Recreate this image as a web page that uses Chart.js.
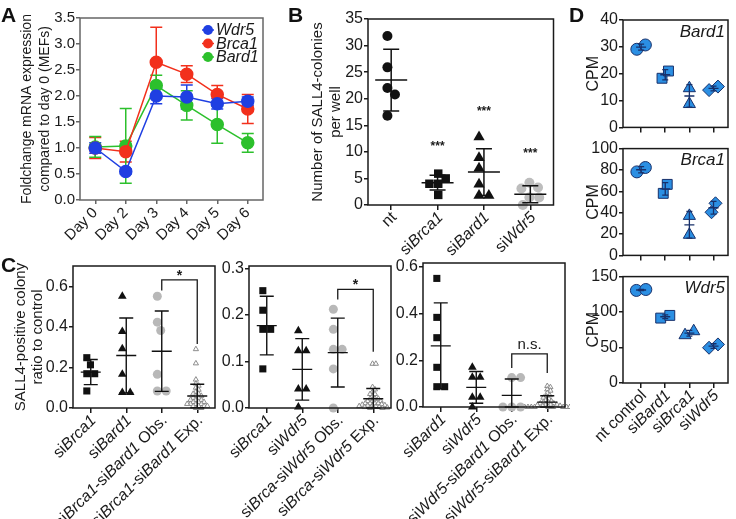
<!DOCTYPE html>
<html lang="en">
<head>
<meta charset="UTF-8">
<title>SALL4 colonies after knockdown</title>
<script src="https://cdn.jsdelivr.net/npm/chart.js"></script>
<style>
  body { margin: 0; background: #fff; }
  #fig { position: relative; width: 736px; height: 519px; overflow: hidden; font-family: "Liberation Sans", Arial, sans-serif; }
  #fig canvas { position: absolute; }
  .tag { position: absolute; font-weight: bold; font-size: 21px; line-height: 21px; color: #111; }
</style>
</head>
<body>
<div id="fig">
  <canvas id="chartA"></canvas>
  <canvas id="chartB"></canvas>
  <canvas id="chartC1"></canvas>
  <canvas id="chartC2"></canvas>
  <canvas id="chartC3"></canvas>
  <canvas id="chartD1"></canvas>
  <canvas id="chartD2"></canvas>
  <canvas id="chartD3"></canvas>
  <div class="tag" style="left:1px;top:4px">A</div>
  <div class="tag" style="left:288px;top:4px">B</div>
  <div class="tag" style="left:1px;top:254px">C</div>
  <div class="tag" style="left:569px;top:4px">D</div>
</div>
<script>
const FONT = '"Liberation Sans", Arial, sans-serif';
const INK = '#1a1a1a';

// ---- A: fold change over the time course ----
const days = ['Day 0', 'Day 2', 'Day 3', 'Day 4', 'Day 5', 'Day 6'];
const wdr5Fc = [1.0, 0.55, 2.0, 1.98, 1.85, 1.9];
const wdr5Err = [0.1, 0.05, 0.15, 0.23, 0.1, 0.08];
const brca1Fc = [1.0, 0.93, 2.65, 2.42, 2.03, 1.75];
const brca1Err = [0.2, 0.2, 0.67, 0.16, 0.17, 0.28];
const bard1Fc = [1.02, 1.04, 2.2, 1.82, 1.45, 1.1];
const bard1Err = [0.2, 0.72, 0.2, 0.28, 0.36, 0.18];

// ---- B: SALL4 colonies per well ----
const bLabels = ['nt', 'si_Brca1_', 'si_Bard1_', 'si_Wdr5_'];
const bNt = [31.8, 25.9, 22.0, 20.8, 16.8];
const bBrca1 = [5.9, 5.0, 4.0, 4.0, 1.9];
const bBard1 = [12.8, 8.9, 6.9, 3.9, 1.8, 1.8];
const bWdr5 = [4.2, 3.3, 3.1, 1.4, 1.4, 0.0];
const bMean = [23.5, 4.2, 6.2, 2.0];
const bSd = [5.8, 1.4, 4.4, 1.6];
const bStars = [null, 10.9, 17.5, 9.7];

// ---- C: ratio to control, observed vs expected ----
const c1Labels = ['si_Brca1_', 'si_Bard1_', 'si_Brca1_-si_Bard1_ Obs.', 'si_Brca1_-si_Bard1_ Exp.'];
const c1Brca1 = [0.248, 0.213, 0.169, 0.169, 0.084];
const c1Bard1 = [0.551, 0.377, 0.292, 0.166, 0.076, 0.076];
const c1Obs = [0.551, 0.423, 0.382, 0.166, 0.084, 0.084];
const c1Exp = [0.29, 0.22, 0.14, 0.12, 0.11, 0.10, 0.09, 0.08, 0.07, 0.07, 0.06, 0.06, 0.05, 0.05, 0.04,
               0.04, 0.04, 0.03, 0.03, 0.03, 0.02, 0.02, 0.02, 0.02, 0.01, 0.01, 0.01, 0.01, 0.0, 0.0];
const c1Mean = [0.177, 0.259, 0.28, 0.059];
const c1Sd = [0.062, 0.185, 0.198, 0.058];
const c1Bracket = [0.579, 0.632, 0.315];

const c2Labels = ['si_Brca1_', 'si_Wdr5_', 'si_Brca_-si_Wdr5_ Obs.', 'si_Brca_-si_Wdr5_ Exp.'];
const c2Brca1 = [0.252, 0.21, 0.169, 0.169, 0.084];
const c2Wdr5 = [0.166, 0.123, 0.123, 0.041, 0.041, 0.002];
const c2Obs = [0.212, 0.169, 0.126, 0.126, 0.084, 0.0];
const c2Exp = [0.095, 0.095, 0.045, 0.04, 0.035, 0.03, 0.03, 0.025, 0.02, 0.02, 0.02, 0.015, 0.015, 0.015, 0.01,
               0.01, 0.01, 0.01, 0.008, 0.007, 0.006, 0.005, 0.005, 0.004, 0.003, 0.002, 0.002, 0.001, 0.0, 0.0];
const c2Mean = [0.177, 0.083, 0.119, 0.02];
const c2Sd = [0.063, 0.066, 0.074, 0.022];
const c2Bracket = [0.233, 0.255, 0.121];

const c3Labels = ['si_Bard1_', 'si_Wdr5_', 'si_Wdr5_-si_Bard1_ Obs.', 'si_Wdr5_-si_Bard1_ Exp.'];
const c3Bard1 = [0.551, 0.384, 0.297, 0.17, 0.087, 0.087];
const c3Wdr5 = [0.17, 0.128, 0.128, 0.042, 0.042, 0.0];
const c3Obs = [0.126, 0.126, 0.0, 0.0, 0.0];
const c3Exp = [0.09, 0.085, 0.075, 0.07, 0.06, 0.05, 0.045, 0.04, 0.035, 0.03, 0.025, 0.02, 0.02, 0.015, 0.015,
               0.01, 0.01, 0.01, 0.008, 0.005, 0.005, 0.0, 0.0, 0.0, 0.0, 0.0, 0.0, 0.0, 0.0, 0.0];
const c3Mean = [0.262, 0.084, 0.05, 0.021];
const c3Sd = [0.184, 0.068, 0.07, 0.027];
const c3Bracket = [0.167, 0.228, 0.146];

// ---- D: CPM, two replicates ----
const dLabels = ['nt control', 'si_Bard1_', 'si_Brca1_', 'si_Wdr5_'];
const dBard1Rep1 = [29.1, 18.3, 14.6, 13.9];
const dBard1Rep2 = [30.7, 21.0, 8.7, 15.2];
const dBard1Mean = [29.9, 19.6, 11.7, 14.5];
const dBard1Sd = [1.1, 1.9, 4.2, 0.9];
const dBrca1Rep1 = [78.2, 58.1, 37.0, 40.4];
const dBrca1Rep2 = [82.3, 66.5, 19.3, 48.8];
const dBrca1Mean = [80.2, 62.3, 28.6, 44.6];
const dBrca1Sd = [2.9, 5.9, 12.5, 5.9];
const dWdr5Rep1 = [130.5, 91.5, 67.4, 49.7];
const dWdr5Rep2 = [131.8, 95.3, 73.0, 54.4];
const dWdr5Mean = [131.1, 93.4, 70.2, 52.0];
const dWdr5Sd = [0.9, 2.7, 4.0, 3.3];

function place(id, box) {
  const cv = document.getElementById(id);
  cv.width = box[2]; cv.height = box[3];
  cv.style.left = box[0] + 'px'; cv.style.top = box[1] + 'px';
}

function framePlugin(color, width) {
  return { id: 'frame', afterDraw(c) {
    const { ctx, chartArea: a } = c;
    ctx.save();
    ctx.strokeStyle = color; ctx.lineWidth = width;
    ctx.strokeRect(a.left, a.top, a.right - a.left, a.bottom - a.top);
    ctx.restore();
  } };
}

function baseOptions(box, area) {
  return {
    responsive: false, animation: false, events: [],
    layout: { padding: { left: 0, top: area[1] - box[1], right: box[0] + box[2] - area[2], bottom: 0 } },
    plugins: { legend: { display: false }, tooltip: { enabled: false } }
  };
}

function yAxis(box, area, o) {
  return {
    type: 'linear', min: 0, max: o.max,
    ticks: { stepSize: o.step, includeBounds: false, autoSkip: false, color: INK, padding: 1,
             font: { family: FONT, size: o.tickSize || 16 }, callback: v => v.toFixed(o.dec || 0) },
    grid: { drawOnChartArea: false, tickLength: 4, color: o.frame, lineWidth: 1.5 },
    border: { display: false },
    title: { display: !!o.title, text: o.title, color: INK,
             font: { family: FONT, size: o.titleSize || 16, lineHeight: o.titleLh || 1.2 },
             padding: { top: o.titlePad || 0, bottom: 0 } },
    afterFit: s => { s.width = area[0] - box[0]; }
  };
}

// spread points of equal-ish value sideways so they do not overlap (layout only)
function swarm(vals, ppu, diam, ppc) {
  const placed = [];
  const offs = vals.map(v => {
    const py = v * ppu;
    const spans = [];
    placed.forEach(p => {
      const dy = Math.abs(p.y - py);
      if (dy < diam) { const w = Math.sqrt(diam * diam - dy * dy); spans.push([p.x - w, p.x + w]); }
    });
    const cands = [0];
    spans.forEach(s => cands.push(s[0], s[1]));
    cands.sort((a, b) => Math.abs(a) - Math.abs(b) || b - a);
    const px = cands.find(cx => spans.every(s => cx <= s[0] + 1e-6 || cx >= s[1] - 1e-6));
    placed.push({ x: px, y: py });
    return px;
  });
  const mid = (Math.min(...offs) + Math.max(...offs)) / 2;
  return offs.map(d => (d - mid) / ppc);
}

// rotated tick label, text between underscores is italic
function richLabel(ctx, text, x, y, size) {
  const parts = text.split('_');
  const fonts = parts.map((p, k) => (k % 2 ? 'italic ' : '') + size + 'px ' + FONT);
  const widths = parts.map((p, k) => { ctx.font = fonts[k]; return ctx.measureText(p).width; });
  const total = widths.reduce((s, w) => s + w, 0);
  ctx.save();
  ctx.translate(x, y); ctx.rotate(-Math.PI / 4);
  ctx.textAlign = 'left'; ctx.textBaseline = 'middle'; ctx.fillStyle = INK;
  let cx = -total;
  parts.forEach((p, k) => { ctx.font = fonts[k]; ctx.fillText(p, cx, 0); cx += widths[k]; });
  ctx.restore();
}

function scatterPanel(id, box, area, o) {
  place(id, box);
  const n = o.labels.length;
  const xmin = o.xmin ?? -0.5, xmax = o.xmax ?? n - 0.5;
  const ppu = (area[3] - area[1]) / o.max;
  const ppc = (area[2] - area[0]) / (xmax - xmin);
  const datasets = o.groups.map((g, i) => {
    const off = swarm(g.vals, ppu, g.diam, ppc);
    return {
      data: g.vals.map((v, k) => ({ x: i + off[k], y: v })),
      pointStyle: g.style, pointRadius: g.r, pointBackgroundColor: g.fill,
      pointBorderColor: g.line || g.fill, pointBorderWidth: g.bw || 0, clip: false
    };
  });
  const deco = {
    id: 'deco',
    afterDatasetsDraw(c) {
      const { ctx, scales: { x, y } } = c;
      const b = o.bar;
      ctx.save();
      ctx.strokeStyle = b.color; ctx.lineWidth = b.width;
      o.mean.forEach((m, i) => {
        const px = x.getPixelForValue(i);
        const pm = y.getPixelForValue(m);
        const ph = y.getPixelForValue(m + o.sd[i]);
        const pl = y.getPixelForValue(Math.max(0, m - o.sd[i]));
        ctx.beginPath();
        ctx.moveTo(px - b.mean, pm); ctx.lineTo(px + b.mean, pm);
        ctx.moveTo(px, ph); ctx.lineTo(px, pl);
        ctx.moveTo(px - b.cap, ph); ctx.lineTo(px + b.cap, ph);
        ctx.moveTo(px - b.cap, pl); ctx.lineTo(px + b.cap, pl);
        ctx.stroke();
      });
      if (o.bracket) {
        const x0 = x.getPixelForValue(2), x1 = x.getPixelForValue(3);
        const [l, t, r] = o.bracket.map(v => y.getPixelForValue(v));
        ctx.strokeStyle = INK; ctx.lineWidth = 1.3;
        ctx.beginPath(); ctx.moveTo(x0, l); ctx.lineTo(x0, t); ctx.lineTo(x1, t); ctx.lineTo(x1, r); ctx.stroke();
        ctx.fillStyle = INK; ctx.textAlign = 'center'; ctx.textBaseline = 'bottom';
        ctx.font = (o.bracketText === '*' ? 'bold 14px ' : '15px ') + FONT;
        ctx.fillText(o.bracketText, (x0 + x1) / 2, t - (o.bracketText === '*' ? -3 : 1));
      }
      ctx.restore();
    },
    afterDraw(c) {
      const { ctx, chartArea: a, scales: { x, y } } = c;
      ctx.save();
      if (o.showLabels) {
        o.labels.forEach((t, i) => richLabel(ctx, t, x.getPixelForValue(i) + 3, a.bottom + 10, 16));
      }
      if (o.stars) {
        ctx.fillStyle = INK; ctx.font = 'bold 12px ' + FONT; ctx.textAlign = 'center'; ctx.textBaseline = 'middle';
        o.stars.forEach((s, i) => { if (s !== null) ctx.fillText('***', x.getPixelForValue(i), y.getPixelForValue(s)); });
      }
      if (o.gene) {
        ctx.fillStyle = INK; ctx.font = 'italic 17px ' + FONT; ctx.textAlign = 'right'; ctx.textBaseline = 'middle';
        ctx.fillText(o.gene, a.right - 3, a.top + 12);
      }
      ctx.restore();
    }
  };
  const opts = baseOptions(box, area);
  opts.scales = {
    x: {
      type: 'linear', min: xmin, max: xmax,
      afterBuildTicks: s => { s.ticks = o.labels.map((t, i) => ({ value: i })); },
      ticks: { display: false },
      grid: { drawOnChartArea: false, tickLength: 5, color: o.frame, lineWidth: 1.5 },
      border: { display: false },
      afterFit: s => { s.height = box[1] + box[3] - area[3]; }
    },
    y: yAxis(box, area, o)
  };
  return new Chart(id, { type: 'scatter', data: { datasets }, options: opts, plugins: [framePlugin(o.frame, 1.5), deco] });
}

// ---------- Panel A ----------
(function () {
  const box = [0, 0, 285, 250], area = [80, 18, 263, 200];
  place('chartA', box);
  const series = [
    { label: 'Wdr5', data: wdr5Fc, err: wdr5Err, color: '#1f3fe2' },
    { label: 'Brca1', data: brca1Fc, err: brca1Err, color: '#f2301c' },
    { label: 'Bard1', data: bard1Fc, err: bard1Err, color: '#2cc02c' }
  ];
  const errBars = { id: 'errA', beforeDatasetsDraw(c) {
    const { ctx, scales: { y } } = c;
    ctx.save(); ctx.lineWidth = 1.5;
    c.data.datasets.forEach((d, i) => {
      const meta = c.getDatasetMeta(i);
      ctx.strokeStyle = d.borderColor;
      d.data.forEach((v, j) => {
        const px = meta.data[j].x, hi = y.getPixelForValue(v + d.err[j]), lo = y.getPixelForValue(v - d.err[j]);
        ctx.beginPath();
        ctx.moveTo(px, hi); ctx.lineTo(px, lo);
        ctx.moveTo(px - 6, hi); ctx.lineTo(px + 6, hi);
        ctx.moveTo(px - 6, lo); ctx.lineTo(px + 6, lo);
        ctx.stroke();
      });
    });
    ctx.restore();
  } };
  const legendA = { id: 'legendA', afterDraw(c) {
    const { ctx, chartArea: a } = c;
    ctx.save();
    c.data.datasets.forEach((d, i) => {
      const y = a.top + 12 + i * 13.5;
      ctx.strokeStyle = d.borderColor; ctx.lineWidth = 1.5;
      ctx.beginPath(); ctx.moveTo(a.right - 61, y); ctx.lineTo(a.right - 49, y); ctx.stroke();
      ctx.fillStyle = d.borderColor;
      ctx.beginPath(); ctx.arc(a.right - 55, y, 5, 0, 2 * Math.PI); ctx.fill();
      ctx.fillStyle = INK; ctx.font = 'italic 16px ' + FONT; ctx.textAlign = 'left'; ctx.textBaseline = 'middle';
      ctx.fillText(d.label, a.right - 47, y + 1);
    });
    ctx.restore();
  } };
  const opts = baseOptions(box, area);
  opts.scales = {
    x: {
      type: 'category', offset: true,
      ticks: { color: INK, font: { family: FONT, size: 15 }, minRotation: 45, maxRotation: 45, padding: 0, autoSkip: false },
      grid: { drawOnChartArea: false, tickLength: 4, color: '#666', lineWidth: 1.5 },
      border: { display: false },
      afterFit: s => { s.height = box[1] + box[3] - area[3]; }
    },
    y: yAxis(box, area, { max: 3.5, step: 0.5, dec: 1, tickSize: 15, frame: '#666',
      title: ['Foldchange mRNA expression', 'compared to day 0 (MEFs)'], titleSize: 14, titleLh: 1.3, titlePad: 18 })
  };
  new Chart('chartA', {
    type: 'line',
    data: { labels: days, datasets: series.map(s => ({
      label: s.label, data: s.data, err: s.err, borderColor: s.color, backgroundColor: s.color,
      pointBackgroundColor: s.color, pointBorderColor: s.color, pointRadius: 6, borderWidth: 1.5, clip: false })) },
    options: opts,
    plugins: [framePlugin('#666', 1.5), errBars, legendA]
  });
})();

// ---------- Panel B ----------
scatterPanel('chartB', [290, 0, 270, 262], [368, 19, 557, 205], {
  labels: bLabels, showLabels: true, max: 35, step: 5, frame: '#1a1a1a',
  title: ['Number of SALL4-colonies', 'per well'], titleSize: 15, titleLh: 1.25, titlePad: 18,
  groups: [
    { vals: bNt, style: 'circle', r: 5, fill: '#111', diam: 10 },
    { vals: bBrca1, style: 'rect', r: 6, fill: '#111', diam: 9 },
    { vals: bBard1, style: 'triangle', r: 6.5, fill: '#111', diam: 10 },
    { vals: bWdr5, style: 'circle', r: 5, fill: '#bdbdbd', diam: 10 }
  ],
  mean: bMean, sd: bSd, stars: bStars,
  bar: { color: '#111', width: 1.5, mean: 16, cap: 8 }
});

// ---------- Panel C ----------
function cGroups(a, b, obs, exp, firstStyle, secondStyle) {
  return [
    { vals: a, style: firstStyle, r: 5, fill: '#111', diam: 8 },
    { vals: b, style: secondStyle, r: 5, fill: '#111', diam: 8 },
    { vals: obs, style: 'circle', r: 4.5, fill: '#b8b8b8', diam: 9 },
    { vals: exp, style: 'triangle', r: 3, fill: 'rgba(255,255,255,0.7)', line: '#8c8c8c', bw: 1, diam: 3.4 }
  ];
}
const cBar = { color: '#111', width: 1.4, mean: 10, cap: 7 };
scatterPanel('chartC1', [0, 240, 220, 279], [73, 266, 217, 408], {
  labels: c1Labels, showLabels: true, max: 0.7, step: 0.2, dec: 1, frame: '#1a1a1a',
  title: ['SALL4-positive colony', 'ratio to control'], titleSize: 15, titleLh: 1.15, titlePad: 12,
  groups: cGroups(c1Brca1, c1Bard1, c1Obs, c1Exp, 'rect', 'triangle'),
  mean: c1Mean, sd: c1Sd, bar: cBar, bracket: c1Bracket, bracketText: '*'
});
scatterPanel('chartC2', [220, 240, 176, 279], [249, 266, 394, 408], {
  labels: c2Labels, showLabels: true, max: 0.305, step: 0.1, dec: 1, frame: '#1a1a1a',
  groups: cGroups(c2Brca1, c2Wdr5, c2Obs, c2Exp, 'rect', 'triangle'),
  mean: c2Mean, sd: c2Sd, bar: cBar, bracket: c2Bracket, bracketText: '*'
});
scatterPanel('chartC3', [396, 240, 174, 279], [423, 263, 568, 407], {
  labels: c3Labels, showLabels: true, max: 0.617, step: 0.2, dec: 1, frame: '#1a1a1a',
  groups: cGroups(c3Bard1, c3Wdr5, c3Obs, c3Exp, 'rect', 'triangle'),
  mean: c3Mean, sd: c3Sd, bar: cBar, bracket: c3Bracket, bracketText: 'n.s.'
});

// ---------- Panel D ----------
const dStyles = [['circle', 6], ['rect', 7], ['triangle', 7], ['rectRot', 6.5]];
function dGroups(rep1, rep2) {
  return rep1.map((v, i) => ({ vals: [v, rep2[i]], style: dStyles[i][0], r: dStyles[i][1],
    fill: '#2b8fe3', line: '#18306a', bw: 1, diam: 10 }));
}
const dBar = { color: '#18306a', width: 1.3, mean: 5, cap: 3 };
const dCommon = { xmin: -0.75, xmax: 3.6, frame: '#1a1a1a', title: 'CPM', titleSize: 16, titleLh: 1.15, titlePad: 14, bar: dBar };
scatterPanel('chartD1', [570, 0, 166, 138], [623, 20, 734, 128], Object.assign({}, dCommon, {
  labels: dLabels, max: 40, step: 10, groups: dGroups(dBard1Rep1, dBard1Rep2),
  mean: dBard1Mean, sd: dBard1Sd, gene: 'Bard1' }));
scatterPanel('chartD2', [570, 138, 166, 128], [623, 148, 734, 256], Object.assign({}, dCommon, {
  labels: dLabels, max: 100, step: 20, groups: dGroups(dBrca1Rep1, dBrca1Rep2),
  mean: dBrca1Mean, sd: dBrca1Sd, gene: 'Brca1' }));
scatterPanel('chartD3', [570, 266, 166, 253], [623, 276, 734, 383], Object.assign({}, dCommon, {
  labels: dLabels, showLabels: true, max: 150, step: 50, groups: dGroups(dWdr5Rep1, dWdr5Rep2),
  mean: dWdr5Mean, sd: dWdr5Sd, gene: 'Wdr5' }));
</script>
</body>
</html>
